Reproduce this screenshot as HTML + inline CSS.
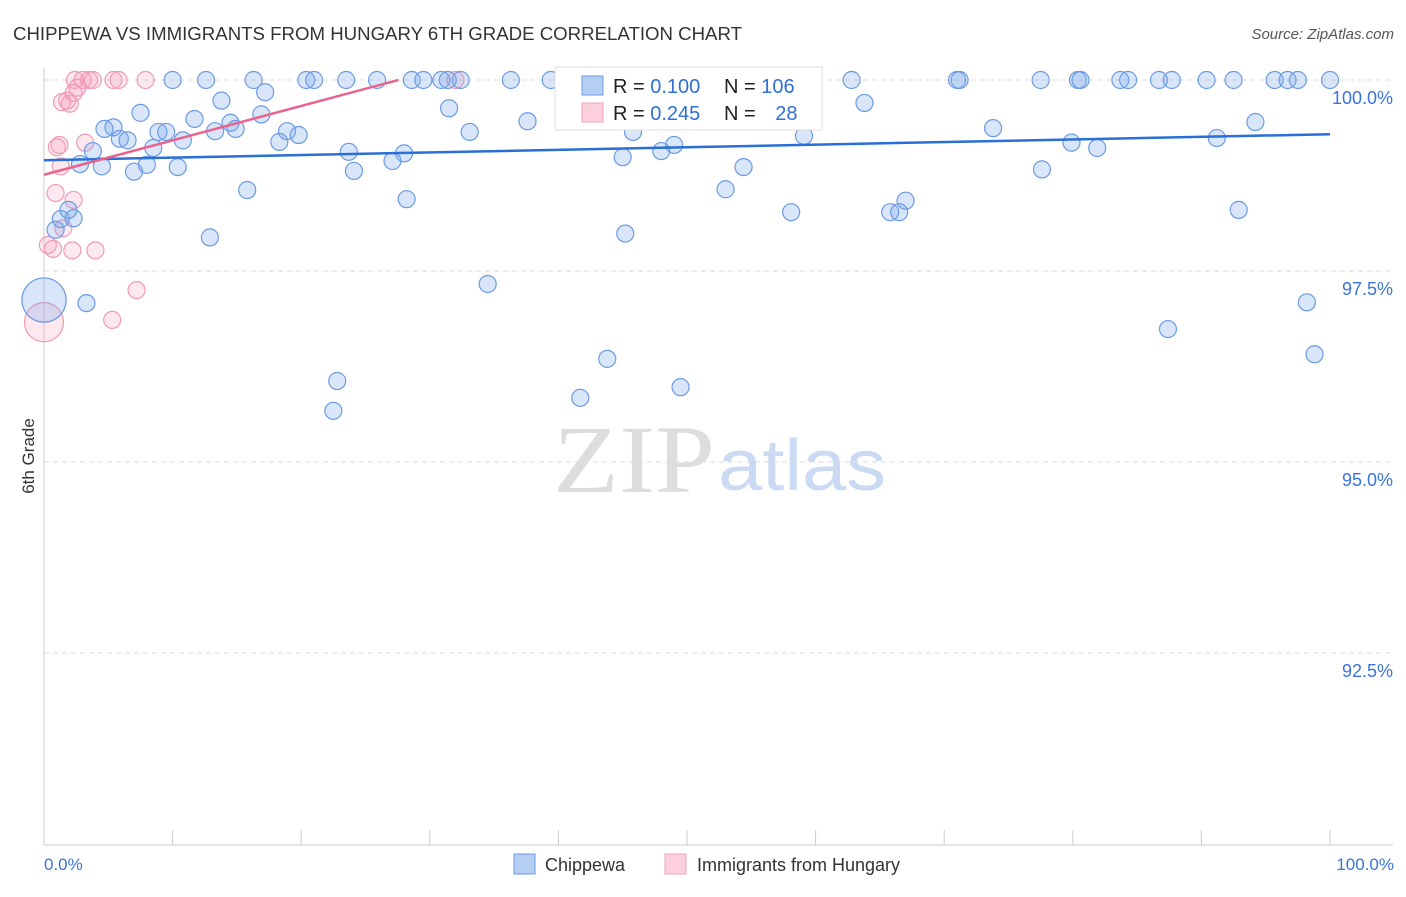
<!DOCTYPE html>
<html><head><meta charset="utf-8"><style>
body{margin:0;background:#fff;width:1406px;height:892px;overflow:hidden;font-family:"Liberation Sans",sans-serif}
</style></head><body>
<svg id="chart" width="1406" height="892" viewBox="0 0 1406 892" xmlns="http://www.w3.org/2000/svg">
<text x="13" y="40" font-size="18" fill="#333" textLength="729" lengthAdjust="spacingAndGlyphs">CHIPPEWA VS IMMIGRANTS FROM HUNGARY 6TH GRADE CORRELATION CHART</text>
<text x="1394" y="39" font-size="15" fill="#555" font-style="italic" text-anchor="end">Source: ZipAtlas.com</text>
<g>
<text x="553" y="492" font-family="Liberation Serif,serif" font-size="96" fill="#ddd" textLength="162" lengthAdjust="spacingAndGlyphs">ZIP</text>
<text x="718" y="490" font-size="72" fill="#c9daf2" textLength="168" lengthAdjust="spacingAndGlyphs">atlas</text>
</g>
<g id="grid"></g>
<line x1="44" y1="68" x2="44" y2="845" stroke="#ccc"/>
<line x1="44" y1="845" x2="1393" y2="845" stroke="#ccc"/>
<g id="xticks"></g>
<g id="pts"></g>
<g id="trends"></g>
<text transform="translate(34,456) rotate(-90)" font-size="17" fill="#333" text-anchor="middle">6th Grade</text>
<text x="44" y="870" font-size="17" fill="#3b74d8">0.0%</text>
<text x="1394" y="870" font-size="17" fill="#3b74d8" text-anchor="end">100.0%</text>
<g>
<rect x="555" y="67" width="267" height="63" fill="#fff" stroke="#ddd"/>
<rect x="582" y="76" width="21" height="19" fill="#b5cff3" stroke="#6d9ae0"/>
<rect x="582" y="103" width="21" height="19" fill="#fbd0dc" stroke="#f0a0b8"/>
<text x="613" y="93" font-size="20" fill="#222">R = <tspan fill="#2f6fd6">0.100</tspan></text>
<text x="724" y="93" font-size="20" fill="#222">N = <tspan fill="#2f6fd6">106</tspan></text>
<text x="613" y="120" font-size="20" fill="#222">R = <tspan fill="#2f6fd6">0.245</tspan></text>
<text x="724" y="120" font-size="20" fill="#222">N = <tspan fill="#2f6fd6" dx="14">28</tspan></text>
</g>
<g>
<rect x="514" y="854" width="21" height="20" fill="#b5cff3" stroke="#6d9ae0"/>
<text x="545" y="871" font-size="18" fill="#333">Chippewa</text>
<rect x="665" y="854" width="21" height="20" fill="#fbd0dc" stroke="#f0a0b8"/>
<text x="697" y="871" font-size="18" fill="#333">Immigrants from Hungary</text>
</g>
</svg>
<script>
const yTicks=[100,97.5,95,92.5];
const yTickLabels=["100.0%","97.5%","95.0%","92.5%"];
const xTickVals=[10,20,30,40,50,60,70,80,90,100];
const blueX=[10.0,12.6,16.3,20.4,21.0,23.5,25.9,28.6,29.5,30.9,31.4,32.4,36.3,39.4,46.4,51.7,56.0,62.8,71.0,71.2,77.5,80.4,80.6,83.7,84.3,86.7,87.7,90.4,92.5,95.7,96.7,97.5,100,
7.5,13.8,17.2,11.7,31.5,63.8,37.6,16.9,5.4,4.7,8.9,9.5,13.3,14.5,14.9,18.9,19.8,33.1,45.8,73.8,94.2,91.2,59.1,5.9,6.5,10.8,18.3,8.5,3.8,23.7,28.0,49.0,48.0,79.9,81.9,45.0,27.1,2.8,4.5,7.0,8.0,10.4,24.1,54.4,77.6,15.8,53.0,28.2,67.0,58.1,65.8,66.5,92.9,1.9,1.3,2.3,0.9,12.9,45.2,34.5,3.3,98.2,87.4,43.8,98.8,49.5,22.8,41.7,22.5,0];
const blueY=[100,100,100,100,100,100,100,100,100,100,100,100,100,100,100,100,100,100,100,100,100,100,100,100,100,100,100,100,100,100,100,100,100,
99.57,99.73,99.84,99.49,99.63,99.70,99.46,99.55,99.38,99.36,99.32,99.32,99.33,99.44,99.36,99.33,99.28,99.32,99.32,99.37,99.45,99.24,99.27,99.23,99.21,99.21,99.19,99.11,99.07,99.06,99.04,99.15,99.07,99.18,99.11,98.99,98.94,98.90,98.87,98.80,98.89,98.86,98.81,98.86,98.83,98.56,98.57,98.44,98.42,98.27,98.27,98.27,98.30,98.30,98.18,98.19,98.04,97.94,97.99,97.33,97.08,97.09,96.74,96.35,96.41,95.98,96.06,95.84,95.67,97.12];
const blueSize=blueX.map((v,i)=>i===blueX.length-1?2.6:1);
const pinkX=[2.4,3.0,3.5,3.8,5.4,5.8,7.9,32.0,2.6,2.3,1.8,1.4,2.0,1.2,3.2,1.0,1.3,0.9,2.3,1.5,0.3,0.7,2.2,4.0,7.2,5.3,0];
const pinkY=[100,100,100,100,100,100,100,100,99.90,99.83,99.73,99.71,99.69,99.15,99.18,99.12,98.87,98.52,98.43,98.06,97.84,97.79,97.77,97.77,97.25,96.86,96.83];
const pinkSize=pinkX.map((v,i)=>i===pinkX.length-1?2.3:1);
const blueTrend=[98.95,99.29];
const pinkTrend=[98.76,0.045];

const NS="http://www.w3.org/2000/svg";
const X=v=>44+v*12.86;
const Y=v=>80+(100-v)*76.4;
function mk(tag,attrs,parent){const e=document.createElementNS(NS,tag);for(const k in attrs)e.setAttribute(k,attrs[k]);parent.appendChild(e);return e;}
const grid=document.getElementById('grid');
yTicks.forEach((t,i)=>{
 const l=mk('line',{x1:44,x2:1393,y1:Y(t),y2:Y(t),stroke:'#ddd','stroke-dasharray':'5,4'},grid);
 
 
 const tx=mk('text',{x:1393,y:Y(t)+24,'font-size':18,fill:'#3b74d8','text-anchor':'end'},grid);
 tx.textContent=yTickLabels[i];
 
 
});
const xt=document.getElementById('xticks');
xTickVals.forEach(v=>{
 const l=mk('line',{x1:X(v),x2:X(v),y1:830,y2:845,stroke:'#ccc'},xt);
 
 
});
const pts=document.getElementById('pts');
pinkX.forEach((v,i)=>{
 const c=mk('circle',{cx:X(v),cy:Y(pinkY[i]),r:8.5*pinkSize[i],fill:'rgba(245,150,180,0.22)',stroke:'#f29ab5','stroke-width':1.2},pts);
 
 
});
blueX.forEach((v,i)=>{
 const c=mk('circle',{cx:X(v),cy:Y(blueY[i]),r:8.5*blueSize[i],fill:'rgba(120,165,235,0.28)',stroke:'#6b9be3','stroke-width':1.2},pts);
 
 
});
const tr=document.getElementById('trends');
const bl=mk('line',{x1:X(0),y1:Y(blueTrend[0]),x2:X(100),y2:Y(blueTrend[1]),stroke:'#2a6fd6','stroke-width':2.5},tr);


const pxEnd=(100-pinkTrend[0])/pinkTrend[1];
const pl=mk('line',{x1:X(0),y1:Y(pinkTrend[0]),x2:X(pxEnd),y2:Y(100),stroke:'#e8638e','stroke-width':2.5},tr);


</script>
</body></html>
